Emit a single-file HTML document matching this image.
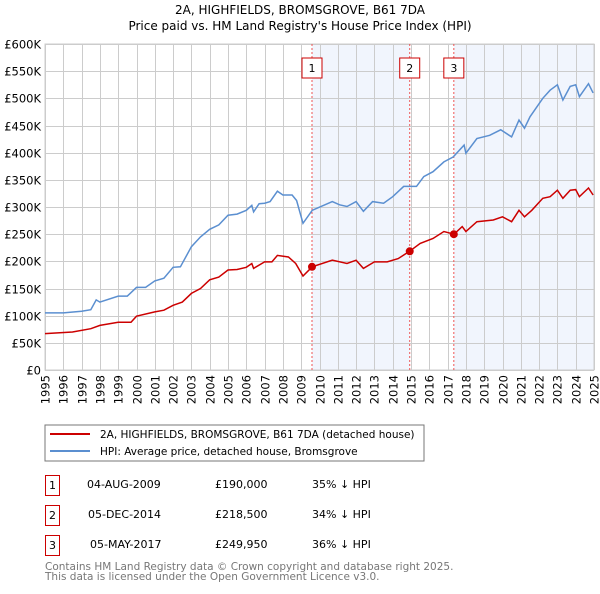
<!DOCTYPE html>
<html><head><meta charset="utf-8"><style>
body{margin:0;background:#fff;font-family:"DejaVu Sans","Liberation Sans",sans-serif;}
svg text{font-family:"DejaVu Sans","Liberation Sans",sans-serif;}
</style></head><body>
<svg id="c" width="600" height="590" viewBox="0 0 600 590" xmlns="http://www.w3.org/2000/svg">
<text x="300" y="14" text-anchor="middle" font-size="12" fill="#000">2A, HIGHFIELDS, BROMSGROVE, B61 7DA</text>
<text x="300" y="30" text-anchor="middle" font-size="12" fill="#000">Price paid vs. HM Land Registry's House Price Index (HPI)</text>
<g id="plot"></g>
<g>
<rect x="45" y="425" width="379" height="36" fill="#fff" stroke="#777" stroke-width="1"/>
<line x1="50" y1="434" x2="90" y2="434" stroke="#cc0000" stroke-width="2"/>
<text x="100" y="438" font-size="10.5">2A, HIGHFIELDS, BROMSGROVE, B61 7DA (detached house)</text>
<line x1="50" y1="451" x2="90" y2="451" stroke="#5b8fd0" stroke-width="2"/>
<text x="100" y="455" font-size="10.5">HPI: Average price, detached house, Bromsgrove</text>
</g>
<g font-size="11">
<g><rect x="45.5" y="475.5" width="14" height="20" fill="none" stroke="#cc0000"/><text x="52.5" y="489" text-anchor="middle">1</text><text x="87" y="488">04-AUG-2009</text><text x="215" y="488">£190,000</text><text x="312" y="488">35% ↓ HPI</text></g>
<g><rect x="45.5" y="505.5" width="14" height="20" fill="none" stroke="#cc0000"/><text x="52.5" y="519" text-anchor="middle">2</text><text x="88" y="518">05-DEC-2014</text><text x="215" y="518">£218,500</text><text x="312" y="518">34% ↓ HPI</text></g>
<g><rect x="45.5" y="535.5" width="14" height="20" fill="none" stroke="#cc0000"/><text x="52.5" y="549" text-anchor="middle">3</text><text x="90" y="548">05-MAY-2017</text><text x="215" y="548">£249,950</text><text x="312" y="548">36% ↓ HPI</text></g>
</g>
<text x="45" y="570" font-size="10.5" fill="#777">Contains HM Land Registry data © Crown copyright and database right 2025.</text>
<text x="45" y="580" font-size="10.5" fill="#777">This data is licensed under the Open Government Licence v3.0.</text>
</svg>
<script>
const hpiYears=[1995,1996,1997,1997.5,1997.8,1998,1999,1999.5,2000,2000.5,2001,2001.5,2002,2002.4,2003,2003.5,2004,2004.5,2005,2005.5,2006,2006.3,2006.4,2006.7,2007,2007.3,2007.7,2008,2008.5,2008.75,2009.1,2009.6,2010.7,2011.1,2011.5,2012.0,2012.4,2012.9,2013.5,2014.0,2014.6,2015.3,2015.7,2016.2,2016.8,2017.3,2017.9,2018.0,2018.6,2019.3,2019.9,2020.5,2020.9,2021.2,2021.5,2022.2,2022.6,2023.0,2023.3,2023.7,2024.0,2024.2,2024.7,2024.95];
const hpiValues=[105,105,108,111,129,125,136,136,152,152,164,169,189,190,227,245,259,267,285,287,294,303,291,306,307,310,329,322,322,312,270,294,310,304,301,310,292,310,307,319,338,338,356,365,383,392,414,399,426,432,442,429,460,445,466,500,515,525,497,522,525,503,527,510];
const ppYears=[1995,1996.5,1997.5,1998,1999,1999.7,2000,2001,2001.5,2002,2002.5,2003,2003.5,2004,2004.5,2005,2005.5,2006,2006.3,2006.4,2007,2007.4,2007.7,2008.3,2008.7,2009.1,2009.6,2010.7,2011.5,2012.0,2012.4,2013,2013.7,2014.3,2014.92,2015.5,2016.2,2016.8,2017.35,2017.8,2018,2018.6,2019.5,2020.0,2020.5,2020.9,2021.2,2021.6,2022.2,2022.6,2023.0,2023.3,2023.7,2024.0,2024.2,2024.7,2024.95];
const ppValues=[67,70,76,82,88,88,99,107,110,119,125,141,150,166,171,184,185,189,196,187,199,199,211,208,196,173,190,202,196,202,187,199,199,205,218.5,233,242,255,250,264,255,273,276,282,273,294,282,294,316,319,331,316,331,332,319,335,322];
const saleLabels=["1","2","3"];
const saleYears=[2009.59,2014.93,2017.34];
const saleValues=[190,218.5,249.95];
const yTicks=[0,50,100,150,200,250,300,350,400,450,500,550,600];
const yTickLabels=["£0","£50K","£100K","£150K","£200K","£250K","£300K","£350K","£400K","£450K","£500K","£550K","£600K"];
const xTicks=[1995,1996,1997,1998,1999,2000,2001,2002,2003,2004,2005,2006,2007,2008,2009,2010,2011,2012,2013,2014,2015,2016,2017,2018,2019,2020,2021,2022,2023,2024,2025];

const X0=45,X1=594,Y0=370,Y1=44;
const xs=y=>X0+(y-1995)/30*(X1-X0);
const ys=v=>Y0-v/600*(Y0-Y1);
const NS="http://www.w3.org/2000/svg";
const plot=document.getElementById('plot');
function mk(t,a,p){const e=document.createElementNS(NS,t);for(const k in a)e.setAttribute(k,a[k]);(p||plot).appendChild(e);return e;}

// shading
let s1=mk('rect',{x:xs(saleYears[0]),y:Y1,width:xs(saleYears[1])-xs(saleYears[0]),height:Y0-Y1,fill:'#eef3fc',opacity:0.8});


let s2=mk('rect',{x:xs(saleYears[2]),y:Y1,width:X1-xs(saleYears[2]),height:Y0-Y1,fill:'#eef3fc',opacity:0.8});



const grid=mk('g',{stroke:'#cccccc','stroke-width':1});


yTicks.forEach((v,i)=>{
  const y=Math.round(ys(v))+0.5;
  mk('line',{x1:X0,x2:X1,y1:y,y2:y},grid);
  const t=mk('text',{x:X0-4,y:y+4,'text-anchor':'end','font-size':'11.5',fill:'#000'});
  t.textContent=yTickLabels[i];
  
  
});
xTicks.forEach(yr=>{
  const x=Math.round(xs(yr))+0.5;
  mk('line',{x1:x,x2:x,y1:Y1,y2:Y0},grid);
  const t=mk('text',{x:0,y:0,'text-anchor':'end','font-size':'11.5',fill:'#000',transform:`translate(${x+4},${Y0+5}) rotate(-90)`});
  t.textContent=yr;
  
  
});
let fr=mk('rect',{x:X0,y:Y1,width:X1-X0,height:Y0-Y1,fill:'none',stroke:'#cccccc'});



// vlines
saleYears.forEach((yr,i)=>{
  const x=xs(yr);
  let l=mk('line',{x1:x,x2:x,y1:Y1,y2:Y0,stroke:'#ee5555','stroke-dasharray':'2,2','stroke-width':1});
  
  
  let b=mk('rect',{x:x-10,y:58,width:20,height:20,fill:'#fff',stroke:'#cc0000'});
  
  
  let t=mk('text',{x:x,y:72,'text-anchor':'middle','font-size':'11'});
  t.textContent=saleLabels[i];
  
  
});

const pts=(xa,va)=>xa.map((y,i)=>xs(y).toFixed(1)+','+ys(va[i]).toFixed(1)).join(' ');
let h=mk('polyline',{points:pts(hpiYears,hpiValues),fill:'none',stroke:'#5b8fd0','stroke-width':1.5});


let p=mk('polyline',{points:pts(ppYears,ppValues),fill:'none',stroke:'#cc0000','stroke-width':1.5});


saleYears.forEach((yr,i)=>{
  let c=mk('circle',{cx:xs(yr),cy:ys(saleValues[i]),r:4,fill:'#cc0000'});
  
  
});
</script>
</body></html>
